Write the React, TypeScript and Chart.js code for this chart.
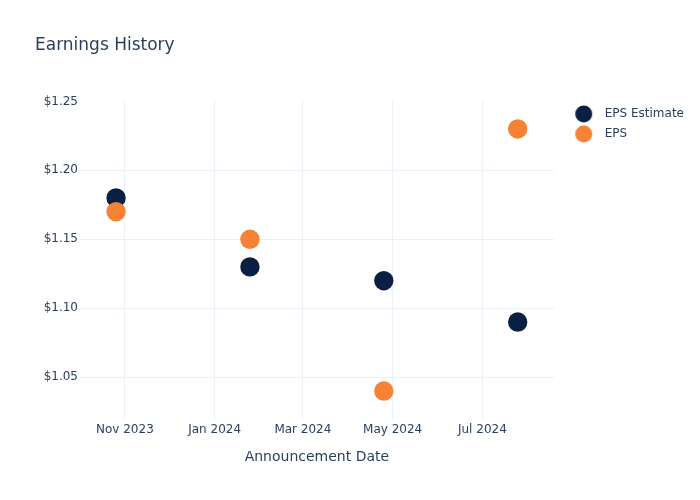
import React, { useEffect, useRef } from "react";
import { Chart, registerables } from "chart.js";

Chart.register(...registerables);

const ANNOUNCEMENT_DATES = ["2023-10-26", "2024-01-25", "2024-04-25", "2024-07-25"];
const EPS_ESTIMATE = [1.18, 1.13, 1.12, 1.09];
const EPS_ACTUAL = [1.17, 1.15, 1.04, 1.23];
const X_TICK_DATES = ["2023-11-01", "2024-01-01", "2024-03-01", "2024-05-01", "2024-07-01"];
const X_TICK_LABELS = ["Nov 2023", "Jan 2024", "Mar 2024", "May 2024", "Jul 2024"];
const Y_TICKS = [1.05, 1.1, 1.15, 1.2, 1.25];
const X_RANGE = ["2023-10-01T12:00:00Z", "2024-08-18T12:00:00Z"];
const Y_RANGE = [1.019, 1.251];

const FONT = "DejaVu Sans";
const TEXT = "#2a3f5f";
const GRID = "#ebf0f8";
const NAVY = "#0b1f42";
const ORANGE = "#f68235";

const ms = (s: string) => new Date(s).getTime();

// legend swatch: a dot placed slightly right of the image centre
function makeDot(color: string): HTMLCanvasElement {
  const c = document.createElement("canvas");
  c.width = 26;
  c.height = 18;
  const g = c.getContext("2d");
  if (g) {
    g.fillStyle = color;
    g.beginPath();
    g.arc(16.5, 9, 8.5, 0, Math.PI * 2);
    g.fill();
  }
  return c;
}

export default function App() {
  const ref = useRef<HTMLCanvasElement | null>(null);

  useEffect(() => {
    document.body.style.margin = "0";
    const canvas = ref.current;
    if (!canvas) return;
    const tickMs = X_TICK_DATES.map(ms);
    const baseGen = (Chart as any).defaults.plugins.legend.labels.generateLabels;

    const chart = new Chart(canvas, {
      type: "scatter",
      data: {
        datasets: [
          {
            label: "EPS Estimate",
            data: ANNOUNCEMENT_DATES.map((d, i) => ({ x: ms(d), y: EPS_ESTIMATE[i] })),
            backgroundColor: NAVY,
            borderColor: NAVY,
            borderWidth: 0,
            pointRadius: 9.7,
            pointHoverRadius: 9.7,
            order: 1,
          },
          {
            label: "EPS",
            data: ANNOUNCEMENT_DATES.map((d, i) => ({ x: ms(d), y: EPS_ACTUAL[i] })),
            backgroundColor: ORANGE,
            borderColor: ORANGE,
            borderWidth: 0,
            pointRadius: 9.7,
            pointHoverRadius: 9.7,
            order: 0,
          },
        ],
      },
      options: {
        responsive: false,
        animation: false,
        layout: { padding: { left: 35, right: 6, top: 0, bottom: 0 } },
        font: { family: FONT },
        plugins: {
          title: {
            display: true,
            text: "Earnings History",
            align: "start",
            color: TEXT,
            font: { family: FONT, size: 17, weight: "normal" },
            padding: { top: 35.8, bottom: 43.8 },
          },
          legend: {
            display: true,
            position: "right",
            align: "start",
            fullSize: false,
            labels: {
              usePointStyle: true,
              pointStyleWidth: 37,
              padding: 8,
              color: TEXT,
              font: { family: FONT, size: 12 },
              sort: (a: any, b: any) => a.datasetIndex - b.datasetIndex,
              generateLabels: (ch: any) =>
                baseGen(ch).map((item: any) => ({
                  ...item,
                  pointStyle: makeDot(ch.data.datasets[item.datasetIndex].backgroundColor),
                })),
            },
          },
          tooltip: { enabled: false },
        },
        scales: {
          x: {
            type: "linear",
            position: "bottom",
            min: ms(X_RANGE[0]),
            max: ms(X_RANGE[1]),
            afterBuildTicks: (s: any) => {
              s.ticks = tickMs.map((v) => ({ value: v }));
            },
            afterFit: (s: any) => {
              s.height = 80;
            },
            grid: { color: GRID, lineWidth: 1, drawTicks: false },
            border: { display: false },
            ticks: {
              padding: 3,
              autoSkip: false,
              maxRotation: 0,
              color: TEXT,
              font: { family: FONT, size: 12 },
              callback: (value: any) => {
                const i = tickMs.indexOf(Number(value));
                return i >= 0 ? X_TICK_LABELS[i] : "";
              },
            },
            title: {
              display: true,
              text: "Announcement Date",
              color: TEXT,
              font: { family: FONT, size: 14 },
              padding: { top: 0, bottom: 33.8 },
            },
          },
          y: {
            type: "linear",
            position: "left",
            min: Y_RANGE[0],
            max: Y_RANGE[1],
            afterBuildTicks: (s: any) => {
              s.ticks = Y_TICKS.map((v) => ({ value: v }));
            },
            afterFit: (s: any) => {
              s.width = 45;
            },
            grid: {
              color: (c: any) => (c.tick && c.tick.value >= 1.249 ? "rgba(0,0,0,0)" : GRID),
              lineWidth: 1,
              drawTicks: false,
            },
            border: { display: false },
            ticks: {
              padding: 2,
              color: TEXT,
              font: { family: FONT, size: 12 },
              callback: (value: any) => "$" + Number(value).toFixed(2),
            },
          },
        },
      } as any,
    });

    return () => chart.destroy();
  }, []);

  return (
    <div style={{ width: 700, height: 500 }}>
      <canvas ref={ref} width={700} height={500} style={{ display: "block" }} />
    </div>
  );
}
